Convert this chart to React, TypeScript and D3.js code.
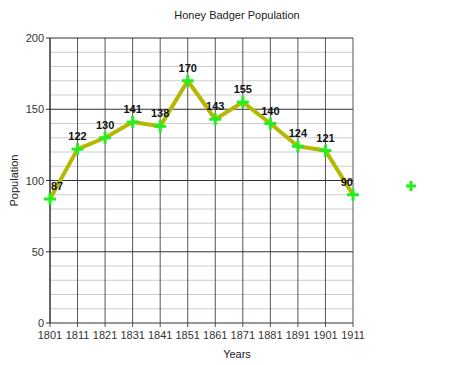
import React from "react";
import * as d3 from "d3";

const years = [1801, 1811, 1821, 1831, 1841, 1851, 1861, 1871, 1881, 1891, 1901, 1911];
const population = [87, 122, 130, 141, 138, 170, 143, 155, 140, 124, 121, 90];
const yMajorTicks = [0, 50, 100, 150, 200];
const yMinorTicks = d3.range(0, 201, 10);

const W = 474, H = 365;
const M = { left: 50, right: 121, top: 38, bottom: 42 };

export default function App() {
  const x = d3.scaleLinear().domain([1801, 1911]).range([M.left, W - M.right]);
  const y = d3.scaleLinear().domain([0, 200]).range([H - M.bottom, M.top]);
  const line = d3.line<number>().x((_, i) => x(years[i])).y((d) => y(d));
  const font = "Liberation Sans, Arial, sans-serif";
  const x0 = x.range()[0], x1 = x.range()[1];
  const y0 = y.range()[0], y1 = y.range()[1];

  const plus = (cx: number, cy: number, s: number, key: string) => (
    <g key={key} stroke="#22ee22" strokeWidth={3}>
      <line x1={cx - s} x2={cx + s} y1={cy} y2={cy} />
      <line x1={cx} x2={cx} y1={cy - s} y2={cy + s} />
    </g>
  );

  return (
    <svg width={W} height={H} style={{ position: "absolute", left: 0, top: 0 }} fontFamily={font}>
      <rect width={W} height={H} fill="#fff" />
      <text x={237} y={19} textAnchor="middle" fontSize={11} fill="#222">Honey Badger Population</text>
      {yMinorTicks.filter((t) => t % 50 !== 0).map((t) => (
        <line key={"mi" + t} x1={x0} x2={x1} y1={y(t)} y2={y(t)} stroke="#cccccc" strokeWidth={1} />
      ))}
      {years.map((yr) => (
        <line key={"v" + yr} x1={x(yr)} x2={x(yr)} y1={y1} y2={y0 + 4} stroke="#555" strokeWidth={1} />
      ))}
      {yMajorTicks.map((t) => (
        <line key={"ma" + t} x1={x0 - 4} x2={x1} y1={y(t)} y2={y(t)} stroke="#333" strokeWidth={1} />
      ))}
      <line x1={x0} x2={x0} y1={y1} y2={y0} stroke="#222" />
      {yMajorTicks.map((t) => (
        <text key={"yl" + t} x={x0 - 6} y={y(t) + 4} textAnchor="end" fontSize={11} fill="#333">{t}</text>
      ))}
      {years.map((yr) => (
        <text key={"xl" + yr} x={x(yr)} y={y0 + 16} textAnchor="middle" fontSize={11} fill="#333">{yr}</text>
      ))}
      <text x={237} y={358} textAnchor="middle" fontSize={11} fill="#222">Years</text>
      <text transform={`translate(18,${(y0 + y1) / 2}) rotate(-90)`} textAnchor="middle" fontSize={11} fill="#222">Population</text>
      <path d={line(population) || ""} fill="none" stroke="#b5b800" strokeWidth={4} strokeLinejoin="round" />
      {population.map((v, i) => plus(x(years[i]), y(v), 6, "p" + i))}
      {population.map((v, i) => {
        const cx = x(years[i]);
        let anchor: "middle" | "start" | "end" = "middle";
        let tx = cx;
        if (i === 0) { anchor = "start"; tx = cx + 1; }
        if (i === population.length - 1) { anchor = "end"; tx = cx; }
        return (
          <text key={"dl" + i} x={tx} y={y(v) - 9} textAnchor={anchor} fontSize={11} fontWeight="bold" fill="#111">{v}</text>
        );
      })}
      {plus(411, 186, 5, "legend")}
    </svg>
  );
}
